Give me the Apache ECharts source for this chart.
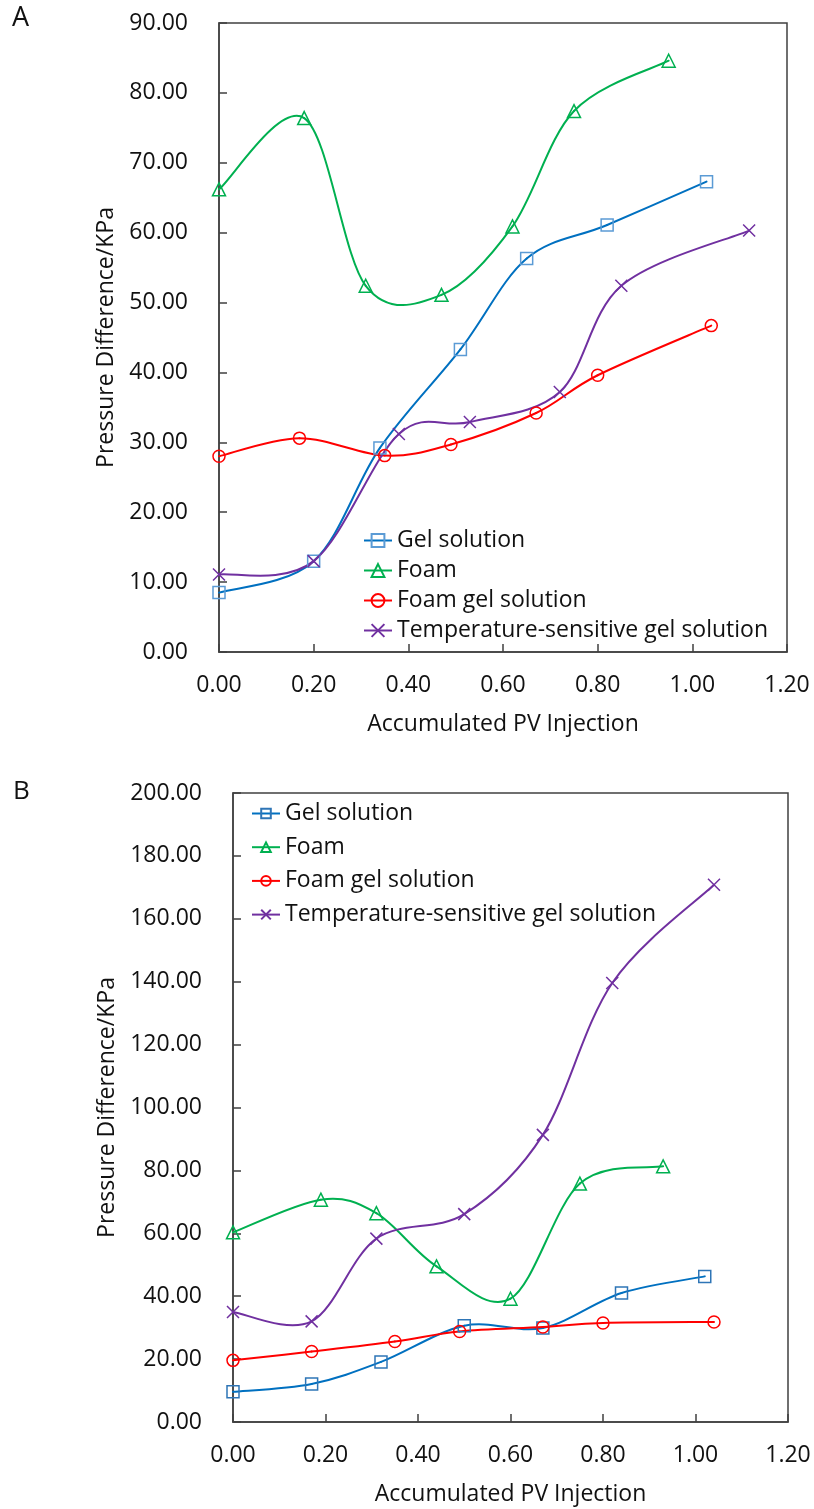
<!DOCTYPE html>
<html>
<head>
<meta charset="utf-8">
<script src="https://cdn.jsdelivr.net/npm/echarts@6/dist/echarts.min.js"></script>
<style>
html,body{margin:0;padding:0;background:#fff;}
#chart{width:814px;height:1509px;}
</style>
</head>
<body>
<div id="chart"></div>
<script>
// ---------- Data ----------
const seriesNames = ['Gel solution', 'Foam', 'Foam gel solution', 'Temperature-sensitive gel solution'];
const xTickLabels = ['0.00', '0.20', '0.40', '0.60', '0.80', '1.00', '1.20'];

// Panel A
const gelA_x  = [0.00, 0.20, 0.34, 0.51, 0.65, 0.82, 1.03];
const gelA_y  = [8.5, 13.0, 29.2, 43.3, 56.3, 61.1, 67.3];
const foamA_x = [0.00, 0.18, 0.31, 0.47, 0.62, 0.75, 0.95];
const foamA_y = [66.2, 76.4, 52.4, 51.1, 60.9, 77.4, 84.6];
const fgA_x   = [0.00, 0.17, 0.35, 0.49, 0.67, 0.80, 1.04];
const fgA_y   = [28.0, 30.6, 28.1, 29.7, 34.2, 39.6, 46.7];
const tsA_x   = [0.00, 0.20, 0.38, 0.53, 0.72, 0.85, 1.12];
const tsA_y   = [11.1, 13.0, 31.2, 32.9, 37.2, 52.4, 60.3];

// Panel B
const gelB_x  = [0.00, 0.17, 0.32, 0.50, 0.67, 0.84, 1.02];
const gelB_y  = [9.6, 12.1, 19.1, 30.6, 29.9, 41.0, 46.3];
const foamB_x = [0.00, 0.19, 0.31, 0.44, 0.60, 0.75, 0.93];
const foamB_y = [60.3, 70.7, 66.4, 49.5, 39.2, 75.8, 81.3];
const fgB_x   = [0.00, 0.17, 0.35, 0.49, 0.67, 0.80, 1.04];
const fgB_y   = [19.6, 22.4, 25.6, 28.8, 30.2, 31.5, 31.8];
const tsB_x   = [0.00, 0.17, 0.31, 0.50, 0.67, 0.82, 1.04];
const tsB_y   = [35.0, 32.0, 58.3, 66.1, 91.3, 139.6, 170.8];

// ---------- Styling ----------
const FONT = 'Open Sans';
const TXT = '#111';
const AX = '#404040';
const lineColors = ['#0070C0', '#00B050', '#FF0000', '#7030A0'];
const markerColorsA = ['#5B9BD5', '#00B050', '#FF0000', '#7030A0'];
const markerColorsB = ['#2E75B6', '#00B050', '#FF0000', '#7030A0'];
const symbols = ['rect', 'triangle', 'circle', 'path://M0,0L10,10M10,0L0,10'];

function pairs(xs, ys) { return xs.map((x, i) => [x, ys[i]]); }

// Smooth curve (Catmull-Rom, like the spreadsheet's smoothed line), one bezier per segment,
// positioned through the chart's own axes with api.coord.
function curveSeries(idx, xs, ys, gi) {
  const n = xs.length;
  const cl = k => Math.max(0, Math.min(n - 1, k));
  return {
    type: 'custom',
    coordinateSystem: 'cartesian2d',
    xAxisIndex: gi, yAxisIndex: gi,
    data: pairs(xs.slice(0, n - 1), ys.slice(0, n - 1)),
    encode: { x: 0, y: 1 },
    silent: true,
    animation: false,
    z: 2,
    renderItem: function (params, api) {
      const i = params.dataIndex;
      const P = k => api.coord([xs[cl(k)], ys[cl(k)]]);
      const p0 = P(i - 1), p1 = P(i), p2 = P(i + 1), p3 = P(i + 2);
      return {
        type: 'bezierCurve',
        shape: {
          x1: p1[0], y1: p1[1], x2: p2[0], y2: p2[1],
          cpx1: p1[0] + (p2[0] - p0[0]) / 6, cpy1: p1[1] + (p2[1] - p0[1]) / 6,
          cpx2: p2[0] - (p3[0] - p1[0]) / 6, cpy2: p2[1] - (p3[1] - p1[1]) / 6
        },
        style: { stroke: lineColors[idx], lineWidth: 2, fill: 'none', lineCap: 'round' }
      };
    }
  };
}

function markerSeries(idx, name, xs, ys, gi, markerColor) {
  return {
    type: 'line',
    name: name,
    xAxisIndex: gi, yAxisIndex: gi,
    data: pairs(xs, ys),
    symbol: symbols[idx],
    symbolSize: idx === 1 ? 13 : 12,
    showAllSymbol: true,
    z: 3,
    lineStyle: { color: lineColors[idx], width: 2, opacity: 0 },
    itemStyle: { color: 'rgba(0,0,0,0)', borderColor: markerColor, borderWidth: 1.5 },
    emphasis: { disabled: true },
    animation: false
  };
}

function xAxisCfg(gi) {
  return {
    gridIndex: gi, type: 'value', min: 0, max: 1.2, interval: 0.2,
    name: 'Accumulated PV Injection', nameLocation: 'middle', nameGap: 60,
    nameTextStyle: { fontFamily: FONT, fontSize: 23, color: TXT, lineHeight: 24 },
    axisLine: { show: true, lineStyle: { color: AX, width: 1.5 } },
    axisTick: { show: true, inside: true, length: 8, lineStyle: { color: AX, width: 1.5 } },
    axisLabel: { fontFamily: FONT, fontSize: 23, color: TXT, margin: 22, lineHeight: 23,
      formatter: v => xTickLabels[Math.round(v / 0.2)] },
    splitLine: { show: false }
  };
}

function yAxisCfg(gi, max, interval, nameGap) {
  return {
    gridIndex: gi, type: 'value', min: 0, max: max, interval: interval,
    name: 'Pressure Difference/KPa', nameLocation: 'middle', nameGap: nameGap,
    nameTextStyle: { fontFamily: FONT, fontSize: 23, color: TXT, lineHeight: 24 },
    axisLine: { show: true, lineStyle: { color: AX, width: 1.5 } },
    axisTick: { show: true, inside: true, length: 8, lineStyle: { color: AX, width: 1.5 } },
    axisLabel: { fontFamily: FONT, fontSize: 23, color: TXT, margin: 31,
      formatter: v => v.toFixed(2) },
    splitLine: { show: false }
  };
}

const legendText = { fontFamily: FONT, fontSize: 23, color: TXT, lineHeight: 22 };

function legendData(markerColors) {
  return seriesNames.map((n, i) => ({
    name: n,
    itemStyle: { borderColor: markerColors[i] },
    lineStyle: { opacity: 1, color: lineColors[i], width: 2 }
  }));
}

const option = {
  backgroundColor: '#fff',
  animation: false,
  grid: [
    { left: 219, top: 23, width: 568, height: 629, show: true, borderColor: AX, borderWidth: 1.5, backgroundColor: 'transparent' },
    { left: 233, top: 793, width: 555, height: 629, show: true, borderColor: AX, borderWidth: 1.5, backgroundColor: 'transparent' }
  ],
  xAxis: [xAxisCfg(0), xAxisCfg(1)],
  yAxis: [yAxisCfg(0, 90, 10, 100), yAxisCfg(1, 200, 20, 114)],
  legend: [
    {
      orient: 'vertical', left: 358, top: 524, itemGap: 7, itemWidth: 28, itemHeight: 16,
      textStyle: legendText, selectedMode: false,
      data: legendData(markerColorsA)
    },
    {
      orient: 'vertical', left: 246, top: 797, itemGap: 10.7, itemWidth: 28, itemHeight: 12,
      textStyle: legendText, selectedMode: false,
      data: legendData(markerColorsB)
    }
  ],
  graphic: [
    { type: 'text', left: 12, top: 5, style: { text: 'A', fontFamily: FONT, fontSize: 27, fill: TXT } },
    { type: 'text', left: 13, top: 779, style: { text: 'B', fontFamily: FONT, fontSize: 26, fill: TXT } }
  ],
  series: [
    curveSeries(0, gelA_x, gelA_y, 0),
    markerSeries(0, seriesNames[0], gelA_x, gelA_y, 0, markerColorsA[0]),
    curveSeries(1, foamA_x, foamA_y, 0),
    markerSeries(1, seriesNames[1], foamA_x, foamA_y, 0, markerColorsA[1]),
    curveSeries(2, fgA_x, fgA_y, 0),
    markerSeries(2, seriesNames[2], fgA_x, fgA_y, 0, markerColorsA[2]),
    curveSeries(3, tsA_x, tsA_y, 0),
    markerSeries(3, seriesNames[3], tsA_x, tsA_y, 0, markerColorsA[3]),
    curveSeries(0, gelB_x, gelB_y, 1),
    markerSeries(0, seriesNames[0], gelB_x, gelB_y, 1, markerColorsB[0]),
    curveSeries(1, foamB_x, foamB_y, 1),
    markerSeries(1, seriesNames[1], foamB_x, foamB_y, 1, markerColorsB[1]),
    curveSeries(2, fgB_x, fgB_y, 1),
    markerSeries(2, seriesNames[2], fgB_x, fgB_y, 1, markerColorsB[2]),
    curveSeries(3, tsB_x, tsB_y, 1),
    markerSeries(3, seriesNames[3], tsB_x, tsB_y, 1, markerColorsB[3])
  ]
};

const chart = echarts.init(document.getElementById('chart'), null, { renderer: 'canvas' });
chart.setOption(option);
</script>
</body>
</html>
